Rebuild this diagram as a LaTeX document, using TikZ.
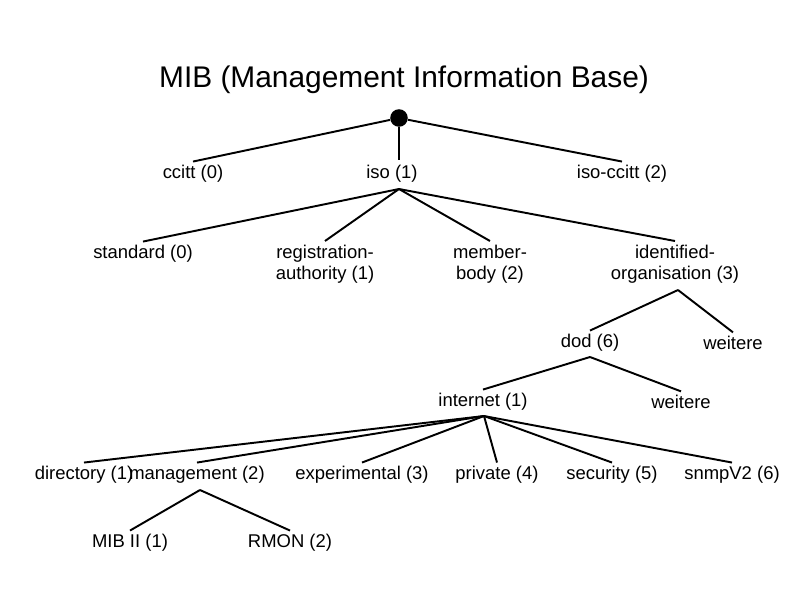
\documentclass[tikz,border=0pt]{standalone}
\usepackage{fontspec}
\setmainfont{Liberation Sans}
\begin{document}
\begin{tikzpicture}[x=0.02cm,y=-0.02cm,
  lab/.style={font=\fontsize{10.5}{12}\selectfont,align=center,inner sep=2pt},
  ln/.style={line width=1.1pt,black}]
\useasboundingbox (0,0) rectangle (800,600);
\node[font=\fontsize{17}{20}\selectfont] (title) at (404,80) {MIB (Management Information Base)};
\node[circle,fill=black,inner sep=0pt,minimum size=10pt] (root) at (399,118) {};
\node[lab] (ccitt) at (193,174) {ccitt (0)};
\node[lab] (iso) at (392,174) {iso (1)};
\node[lab] (isoccitt) at (622,174) {iso-ccitt (2)};
\draw[ln] (root) -- (399,160) coordinate (isotop);
\draw[ln] (root) -- (ccitt.north);
\draw[ln] (root) -- (isoccitt.north);
\node[lab] (std) at (143,254) {standard (0)};
\node[lab] (reg) at (325,264) {registration-\\authority (1)};
\node[lab] (mem) at (490,264) {member-\\body (2)};
\node[lab] (ido) at (675,264) {identified-\\organisation (3)};
\coordinate (isob) at (399,189);
\draw[ln] (isob) -- (std.north);
\draw[ln] (isob) -- (reg.north);
\draw[ln] (isob) -- (mem.north);
\draw[ln] (isob) -- (ido.north);
\node[lab] (dod) at (590,343) {dod (6)};
\node[lab] (w1) at (733,343) {weitere};
\coordinate (idob) at (678,290);
\draw[ln] (idob) -- (dod.north);
\draw[ln] (idob) -- (w1.north);
\node[lab] (inet) at (483,402) {internet (1)};
\node[lab] (w2) at (681,402) {weitere};
\coordinate (dodb) at (590,357);
\draw[ln] (dodb) -- (inet.north);
\draw[ln] (dodb) -- (w2.north);
\node[lab] (dir) at (84,475) {directory (1)};
\node[lab] (mgmt) at (197,475) {management (2)};
\node[lab] (exp) at (362,475) {experimental (3)};
\node[lab] (priv) at (497,475) {private (4)};
\node[lab] (sec) at (612,475) {security (5)};
\node[lab] (snmp) at (732,475) {snmpV2 (6)};
\coordinate (inetb) at (484,416);
\foreach \n in {dir,mgmt,exp,priv,sec,snmp} \draw[ln] (inetb) -- (\n.north);
\node[lab] (mib) at (130,543) {MIB II (1)};
\node[lab] (rmon) at (290,543) {RMON (2)};
\coordinate (mgmtb) at (200,490);
\draw[ln] (mgmtb) -- (mib.north);
\draw[ln] (mgmtb) -- (rmon.north);
\end{tikzpicture}
\end{document}
